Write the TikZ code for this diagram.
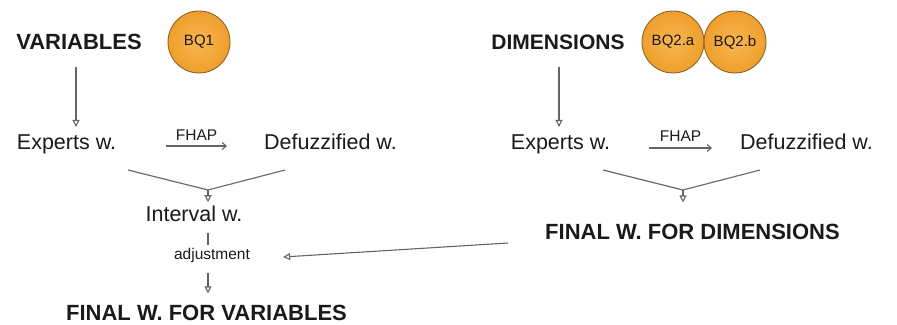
\documentclass[tikz,border=0pt]{standalone}
\usepackage{fontspec}
\setmainfont{Liberation Sans}
\usetikzlibrary{arrows.meta,calc}
\definecolor{txt}{HTML}{1A1A1A}
\definecolor{ln}{HTML}{656565}
\definecolor{orin}{HTML}{F8B650}
\definecolor{orout}{HTML}{EF9F2C}
\definecolor{orb}{HTML}{8E6228}
\tikzset{
  every node/.style={inner sep=0pt, text=txt},
  head/.style={anchor=base, font=\bfseries\fontsize{22}{26}\selectfont},
  lbl/.style={anchor=base, font=\fontsize{21.5}{25}\selectfont},
  small/.style={anchor=base, font=\fontsize{15.5}{18}\selectfont},
  bq/.style={circle, draw=orb, line width=0.9pt, inner color=orin, outer color=orout,
             minimum size=62pt, font=\fontsize{15}{18}\selectfont, text=txt},
  conn/.style={draw=ln, line width=1.1pt},
  arr/.style={conn, -{Triangle[open, length=7pt, width=7pt]}},
  tarr/.style={conn, -{Straight Barb[length=4pt, width=7pt]}},
}
\begin{document}
\begin{tikzpicture}[x=1pt,y=1pt]
\useasboundingbox (0,0) rectangle (897,324);
% left column
\node[head] (var) at (79,274) {VARIABLES};
\node[bq] (bq1) at (199,282) {BQ1};
\node[lbl] (expL) at (66.5,174) {Experts w.};
\node[lbl] (defL) at (330.5,174) {Defuzzified w.};
\node[lbl] (intv) at (194,102) {Interval w.};
\node[small] (adj) at (212,64) {adjustment};
\node[head] (finV) at (206.5,4) {FINAL W. FOR VARIABLES};
% right column
\node[head, font=\bfseries\fontsize{21}{25}\selectfont] (dim) at (558,274) {DIMENSIONS};
\node[bq] (bq2a) at (673,282) {BQ2.a};
\node[bq] (bq2b) at (735,282) {BQ2.b};
\node[lbl] (expR) at (560.5,174) {Experts w.};
\node[lbl] (defR) at (806.5,174) {Defuzzified w.};
\node[head] (finD) at (692.5,84) {FINAL W. FOR DIMENSIONS};
% junctions
\coordinate (mL) at (208,134);
\coordinate (mR) at (683,134);
% left arrows
\draw[arr] ($(var.base)+(-3,-17)$) -- ($(expL.base)+(9.5,23)$);
\draw[tarr] ($(expL.base east)+(50,4)$) -- node[small, anchor=south, above=5pt] (fhapL) {FHAP} ($(defL.base west)+(-37,4)$);
\draw[conn] ($(expL.base)+(61.5,-20)$) -- (mL) -- ($(defL.base)+(-45.5,-20)$);
\draw[arr, shorten >=4pt] (mL) -- (mL |- intv.north);
\draw[conn, shorten <=11pt, shorten >=4pt] (intv.south -| mL) -- (adj.north -| mL);
\draw[arr, shorten <=10pt, shorten >=11pt] (adj.south -| mL) -- (finV.north -| mL);
% right arrows
\draw[arr] ($(dim.base)+(1,-17)$) -- ($(expR.base)+(-1.5,23)$);
\draw[tarr] ($(expR.base east)+(39,2)$) -- node[small, anchor=south, above=5.5pt] (fhapR) {FHAP} ($(defR.base west)+(-28,2)$);
\draw[conn] ($(expR.base)+(42.5,-20)$) -- (mR) -- ($(defR.base)+(-46.5,-20)$);
\draw[arr, shorten >=22pt] (mR) -- (mR |- finD.north);
% cross arrow
\draw[arr] ($(finD.base west)+(-37,-3)$) -- ($(adj.base east)+(33,3)$);
\end{tikzpicture}
\end{document}
